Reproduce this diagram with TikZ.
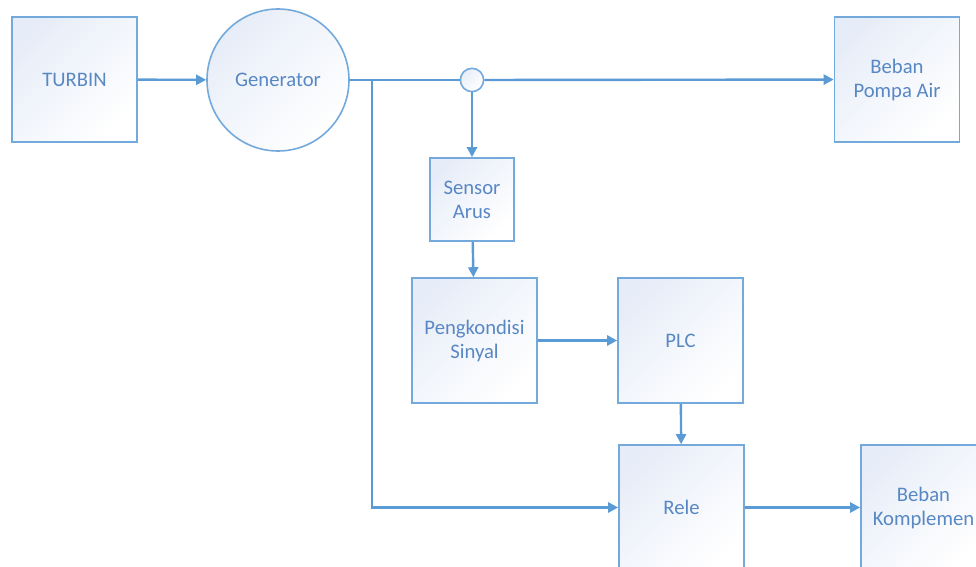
\documentclass[tikz,border=0pt]{standalone}
\usepackage{fontspec}
\setmainfont{Carlito}
\usetikzlibrary{arrows.meta,positioning}
\definecolor{garis}{RGB}{91,155,213}
\definecolor{teks}{RGB}{88,136,196}
\definecolor{isi}{RGB}{231,237,248}

\begin{document}
\begin{tikzpicture}[x=0.75pt, y=-0.75pt, line width=1.8pt, >={Triangle[length=7.5pt,width=7.5pt]},
        main/.style = {draw=garis!85, line width=1.2pt, top color=isi, bottom color=white, shading angle=45,
            text=teks, font=\fontsize{15.5}{18}\selectfont, align=center,
            minimum width=93.75pt, minimum height=93.75pt, inner sep=0pt},
        kecil/.style = {main, minimum width=63pt, minimum height=62.25pt},
        bulat/.style = {main, circle, minimum size=106.5pt}]
        \useasboundingbox (0,0) rectangle (976,567);

        \node[main] (turbin) at (74.5,79.5) {TURBIN};
        \node[bulat] (gen) at (278,80) {Generator};
        \node[main] (pompa) at (897,79.5) {Beban\\Pompa Air};
        \node[main, circle, minimum size=17.5pt] (titik) at (472,80) {};
        \coordinate (cabang) at (372,80);

        \node[kecil] (sensor) at (472,199.5) {Sensor\\Arus};
        \node[main] (sinyal) at (474.5,340.5) {Pengkondisi\\Sinyal};
        \node[main] (plc) at (680.5,340.5) {PLC};
        \node[main] (rele) at (681.5,507.5) {Rele};
        \node[main] (komplemen) at (923.5,507.5) {Beban\\Komplemen};

        % jalur daya
        \draw[->, garis] (turbin) -- (gen);
        \draw[garis] (gen) -- (titik);
        \draw[->, garis] (titik) -- (pompa);
        \draw[->, garis] (cabang) |- (rele);

        % jalur kendali
        \draw[->, garis] (titik) -- (sensor);
        \draw[->, garis] (sensor) -- (sinyal);
        \draw[->, garis] (sinyal) -- (plc);
        \draw[->, garis] (plc) -- (rele);
        \draw[->, garis] (rele) -- (komplemen);

    \end{tikzpicture}
\end{document}
